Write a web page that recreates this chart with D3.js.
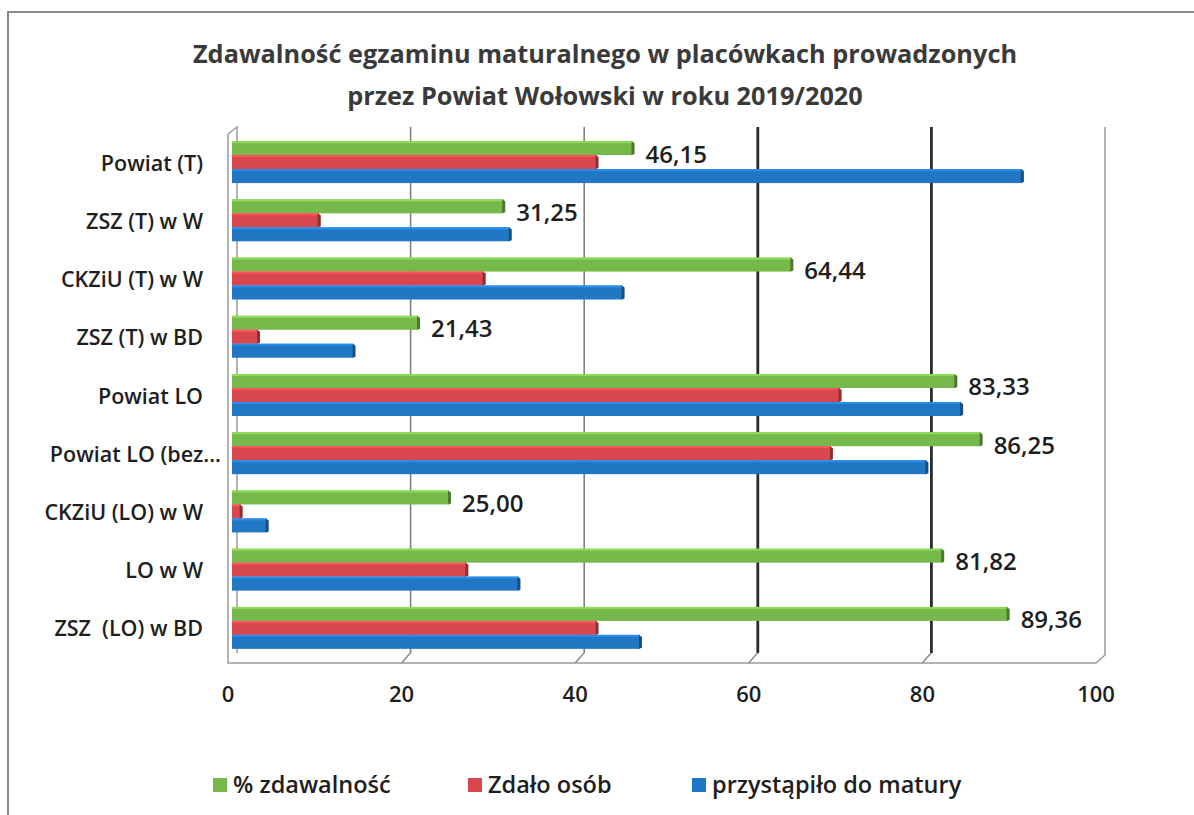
<!DOCTYPE html>
<html>
<head>
<meta charset="utf-8">
<script src="https://cdn.jsdelivr.net/npm/d3@7"></script>
<style>
  body { margin: 0; background: #fff; }
  svg { display: block; font-family: "Open Sans", sans-serif; }
  text { white-space: pre; }
</style>
</head>
<body>
<svg width="1194" height="815"></svg>
<script>
var categories = ["Powiat (T)", "ZSZ (T) w W", "CKZiU (T) w W", "ZSZ (T) w BD", "Powiat LO",
    "Powiat LO (bez...", "CKZiU (LO) w W", "LO w W", "ZSZ  (LO) w BD"];
var pctValues = [46.15, 31.25, 64.44, 21.43, 83.33, 86.25, 25.00, 81.82, 89.36];
var passedValues = [42, 10, 29, 3, 70, 69, 1, 27, 42];
var takenValues = [91, 32, 45, 14, 84, 80, 4, 33, 47];
var xTicks = [0, 20, 40, 60, 80, 100];
var seriesNames = ["% zdawalność", "Zdało osób", "przystąpiło do matury"];
var seriesColors = ["#76b84a", "#d8464e", "#2277c5"];
var titleLines = ["Zdawalność egzaminu maturalnego w placówkach prowadzonych",
    "przez Powiat Wołowski w roku 2019/2020"];

var svg = d3.select("svg");
var depthX = 9, depthY = 10;
var plotTop = 127, floorBack = 653;

// back plane scale; front = back - depth
var x = d3.scaleLinear().domain([0, 100]).range([237, 1105]);
var y = d3.scaleBand().domain(categories).range([133, 657]).paddingInner(0.28).paddingOuter(0.14);
var ySub = d3.scaleBand().domain([0, 1, 2]).range([0, y.bandwidth()]);

var fmt = function(v) { return d3.format(".2f")(v).replace(".", ","); };

// page frame
svg.append("path")
    .attr("d", "M8,815 L8,12 L1194,12")
    .attr("fill", "none")
    .attr("stroke", "#8a8a8a")
    .attr("stroke-width", 2);

// title
svg.append("g").selectAll("text")
    .data(titleLines)
    .enter().append("text")
    .attr("x", 605)
    .attr("y", function(d, i) { return 63 + i * 42; })
    .attr("text-anchor", "middle")
    .attr("font-size", 25.3)
    .attr("font-weight", 700)
    .attr("fill", "#3a3a3a")
    .text(function(d) { return d; });

// walls and floor
var walls = svg.append("g").attr("fill", "none").attr("stroke", "#9a9a9a").attr("stroke-width", 1.5);
walls.append("path")
    .attr("d", "M" + (x(0) - depthX) + "," + (plotTop + 7) + " L" + x(0) + "," + plotTop +
        " L" + x(0) + "," + floorBack);
walls.append("path")
    .attr("d", "M" + (x(0) - depthX) + "," + (plotTop + 7) + " L" + (x(0) - depthX) + "," + (floorBack + depthY) +
        " L" + (x(100) - depthX) + "," + (floorBack + depthY) +
        " L" + x(100) + "," + (floorBack + 2) + " L" + x(100) + "," + plotTop);

// gridlines
var grid = svg.append("g");
grid.selectAll("line")
    .data(xTicks.slice(1, 5))
    .enter().append("line")
    .attr("x1", function(d) { return x(d); })
    .attr("x2", function(d) { return x(d); })
    .attr("y1", plotTop)
    .attr("y2", floorBack)
    .attr("stroke", function(d) { return d >= 60 ? "#2b2b2b" : "#808080"; })
    .attr("stroke-width", function(d) { return d >= 60 ? 2.8 : 1.6; });
grid.selectAll("path")
    .data(xTicks.slice(1, 5))
    .enter().append("path")
    .attr("d", function(d) {
        return "M" + x(d) + "," + floorBack + " L" + (x(d) - 3) + "," + (floorBack + 3) +
            " L" + (x(d) - depthX) + "," + (floorBack + depthY);
    })
    .attr("fill", "none")
    .attr("stroke", "#8a8a8a")
    .attr("stroke-width", 1.5);

// bars
var rows = categories.map(function(c, i) {
    return { cat: c, vals: [pctValues[i], passedValues[i], takenValues[i]] };
});

var groups = svg.append("g").selectAll("g")
    .data(rows)
    .enter().append("g")
    .attr("transform", function(d) { return "translate(0," + y(d.cat) + ")"; });

var bars = groups.selectAll("g")
    .data(function(d) { return d.vals.map(function(v, k) { return { v: v, k: k }; }); })
    .enter().append("g");

var x0 = x(0) - 5;
bars.append("rect")
    .attr("x", x0)
    .attr("y", function(d) { return ySub(d.k); })
    .attr("width", function(d) { return x(d.v) - 5 - x0; })
    .attr("height", ySub.bandwidth())
    .attr("fill", function(d) { return seriesColors[d.k]; });
bars.append("rect")
    .attr("x", x0)
    .attr("y", function(d) { return ySub(d.k); })
    .attr("width", function(d) { return x(d.v) - 5 - x0; })
    .attr("height", 2)
    .attr("fill", function(d) { return d3.color(seriesColors[d.k]).brighter(0.5); });
bars.append("path")
    .attr("d", function(d) {
        var xe = x(d.v) - 5, yt = ySub(d.k), h = ySub.bandwidth();
        return "M" + (xe - 1) + "," + yt + " L" + (xe + 2) + "," + (yt + 2) +
            " L" + (xe + 2) + "," + (yt + h - 1) + " L" + (xe - 1) + "," + (yt + h) + "Z";
    })
    .attr("fill", function(d) { return d3.color(seriesColors[d.k]).darker(1.2); });

// data labels on the % series
groups.append("text")
    .attr("x", function(d) { return x(d.vals[0]) + 8; })
    .attr("y", ySub(0) + ySub.bandwidth() / 2 + 6)
    .attr("dy", "0.35em")
    .attr("font-size", 24)
    .attr("font-weight", 600)
    .attr("fill", "#1e1e1e")
    .text(function(d) { return fmt(d.vals[0]); });

// category labels
svg.append("g").selectAll("text")
    .data(categories)
    .enter().append("text")
    .attr("x", function(d) { return /\.\.\.$/.test(d) ? 221 : 203; })
    .attr("y", function(d) { return y(d) + y.bandwidth() / 2 + 1; })
    .attr("dy", "0.35em")
    .attr("text-anchor", "end")
    .attr("font-size", 21.5)
    .attr("font-weight", 600)
    .attr("fill", "#1e1e1e")
    .text(function(d) { return d; });

// x tick labels
svg.append("g").selectAll("text")
    .data(xTicks)
    .enter().append("text")
    .attr("x", function(d) { return x(d) - depthX; })
    .attr("y", 702)
    .attr("text-anchor", "middle")
    .attr("font-size", 22)
    .attr("font-weight", 600)
    .attr("fill", "#1e1e1e")
    .text(function(d) { return d; });

// legend
var legendX = [213, 468, 692];
var legend = svg.append("g").selectAll("g")
    .data(seriesNames)
    .enter().append("g")
    .attr("transform", function(d, i) { return "translate(" + legendX[i] + ",785)"; });
legend.append("rect")
    .attr("x", 0)
    .attr("y", -7)
    .attr("width", 14)
    .attr("height", 14)
    .attr("fill", function(d, i) { return seriesColors[i]; });
legend.append("text")
    .attr("x", 20)
    .attr("y", 0)
    .attr("dy", "0.35em")
    .attr("font-size", 23.5)
    .attr("font-weight", 600)
    .attr("fill", "#1e1e1e")
    .text(function(d) { return d; });
</script>
</body>
</html>
